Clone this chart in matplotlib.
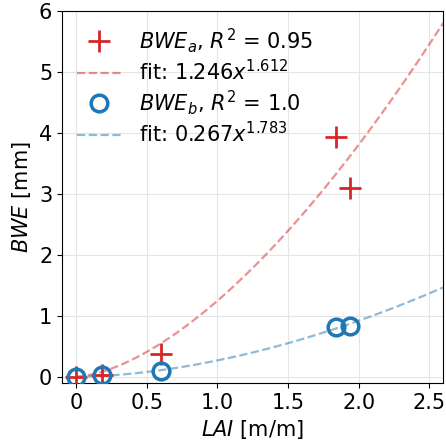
import numpy as np
import matplotlib.pyplot as plt

# Данные
lai = [0.0, 0.18, 0.6, 1.84, 1.94]
bwe_a = [0.0, 0.02, 0.38, 3.93, 3.1]
bwe_b = [0.0, 0.02, 0.1, 0.81, 0.84]

# Параметры подгонки y = a * x^b
fit_a = (1.246, 1.612)
fit_b = (0.267, 1.783)

plt.rcParams['font.size'] = 15

fig = plt.figure(figsize=(4.46, 4.41), dpi=100)
ax = fig.add_axes([0.139, 0.132, 0.855, 0.842])

x = np.linspace(0, 2.6, 200)

ax.plot(lai, bwe_a, '+', color='#d62728', markersize=16, mew=2,
        label=r'$BWE_a$, $R^2$ = 0.95', zorder=3)
ax.plot(x, fit_a[0] * x ** fit_a[1], '--', color='#d62728', alpha=0.5,
        lw=1.6, label=r'fit: $1.246x^{1.612}$')
ax.plot(lai, bwe_b, 'o', color='#1f77b4', mfc='none', markersize=12, mew=2.5,
        label=r'$BWE_b$, $R^2$ = 1.0', zorder=3)
ax.plot(x, fit_b[0] * x ** fit_b[1], '--', color='#1f77b4', alpha=0.5,
        lw=1.6, label=r'fit: $0.267x^{1.783}$')

ax.set_xlim(-0.1, 2.6)
ax.set_ylim(-0.1, 6)
ax.set_xticks([0, 0.5, 1.0, 1.5, 2.0, 2.5])
ax.set_xticklabels(['0', '0.5', '1.0', '1.5', '2.0', '2.5'])
ax.set_yticks([0, 1, 2, 3, 4, 5, 6])
ax.grid(True, color='#e5e5e5', lw=0.8)
ax.set_xlabel(r'$LAI$ [m/m]')
ax.set_ylabel(r'$BWE$ [mm]')
ax.legend(loc='upper left', frameon=False, fontsize=15, handlelength=2.2,
          labelspacing=0.2, borderaxespad=0.3)

fig.savefig('out.png', dpi=100)
